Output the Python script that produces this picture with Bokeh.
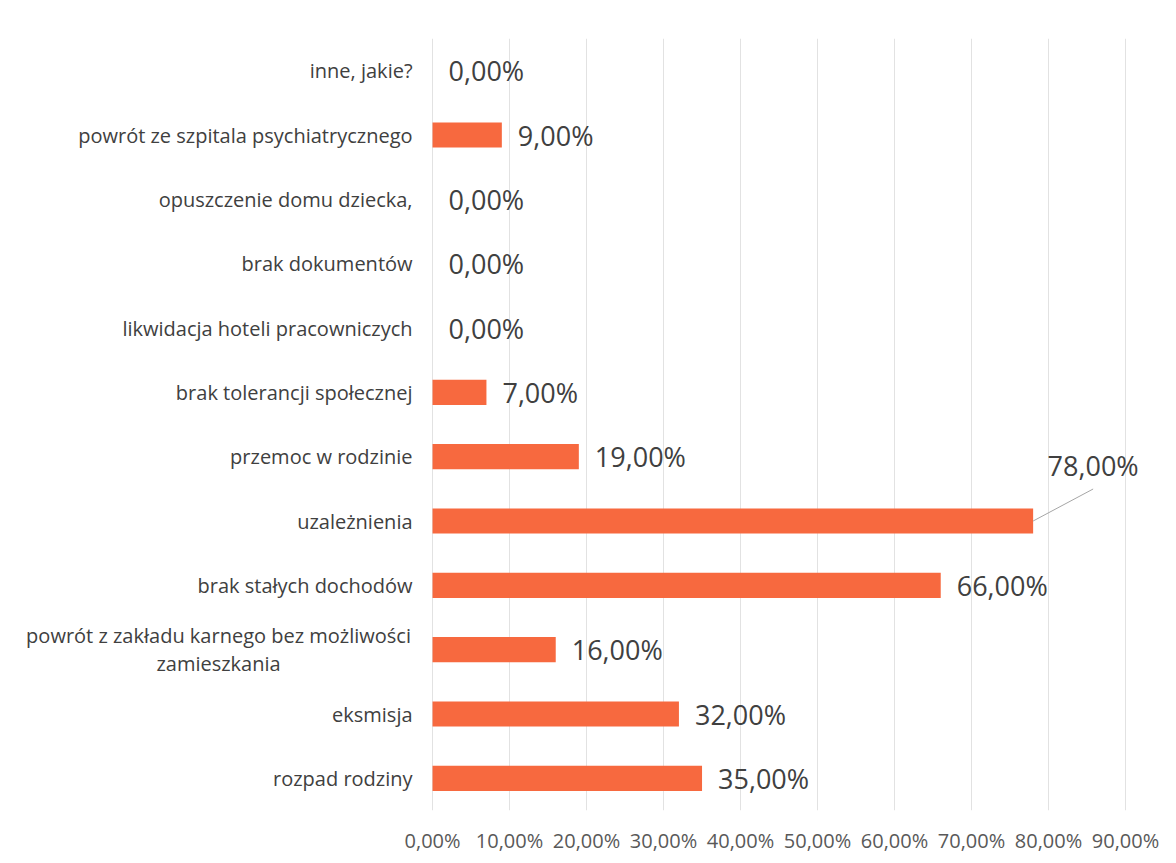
from bokeh.plotting import figure
from bokeh.models import Range1d, FixedTicker, ColumnDataSource
from bokeh.core.properties import value
from bokeh.embed import file_html
from bokeh.resources import INLINE

# ---- data (top to bottom, as in the chart) ----
categories = [
    "inne, jakie?",
    "powrót ze szpitala psychiatrycznego",
    "opuszczenie domu dziecka,",
    "brak dokumentów",
    "likwidacja hoteli pracowniczych",
    "brak tolerancji społecznej",
    "przemoc w rodzinie",
    "uzależnienia",
    "brak stałych dochodów",
    "powrót z zakładu karnego bez możliwości\nzamieszkania",
    "eksmisja",
    "rozpad rodziny",
]
values = [0, 9, 0, 0, 0, 7, 19, 78, 66, 16, 32, 35]
tick_values = [0, 10, 20, 30, 40, 50, 60, 70, 80, 90]

# ---- styling / layout ----
BAR_COLOR = "#F7693F"
FONT = "Open Sans"
FRAME_W, FRAME_H = 1160, 772
X_START, X_END = -55.2, 95.45
PX_PER_UNIT = FRAME_W / (X_END - X_START)
N = len(categories)
ROW_PX = FRAME_H / N

def pct(v):
    return f"{v:.2f}".replace(".", ",") + "%"

ys = [N - i - 0.5 for i in range(N)]

p = figure(
    frame_width=FRAME_W, frame_height=FRAME_H,
    x_range=Range1d(X_START, X_END), y_range=Range1d(0, N),
    output_backend="svg", toolbar_location=None,
    min_border_left=7, min_border_right=0, min_border_top=38, min_border_bottom=40,
)
p.outline_line_color = None
p.background_fill_color = "white"
p.border_fill_color = "white"
p.yaxis.visible = False
p.ygrid.grid_line_color = None

ticker = FixedTicker(ticks=tick_values)
p.xaxis.ticker = ticker
p.xgrid.ticker = ticker
p.xgrid.grid_line_color = "#e2e2e2"
p.xgrid.grid_line_width = 1
p.xaxis.axis_line_color = None
p.xaxis.major_tick_line_color = None
p.xaxis.minor_tick_line_color = None
p.xaxis.major_label_overrides = {t: pct(t) for t in tick_values}
p.xaxis.major_label_text_font = FONT
p.xaxis.major_label_text_font_size = "20px"
p.xaxis.major_label_text_color = "#595959"
p.xaxis.major_label_standoff = 10

src = ColumnDataSource(dict(y=ys, v=values, cat=categories,
                            lab=[pct(v) for v in values]))
p.hbar(y="y", left=0, right="v", height=0.39, source=src,
       fill_color=BAR_COLOR, line_color=None)

# category labels
single = [i for i, c in enumerate(categories) if "\n" not in c]
multi = [i for i, c in enumerate(categories) if "\n" in c]
p.text(x=[0] * len(single), y=[ys[i] for i in single],
       text=[categories[i] for i in single],
       x_offset=-20, text_align="right", text_baseline="middle",
       text_font=value(FONT), text_font_size="20px", text_color="#404040")
p.text(x=[0] * len(multi), y=[ys[i] for i in multi],
       text=[categories[i] for i in multi],
       x_offset=-214, text_align="center", text_baseline="middle",
       text_line_height=1.02,
       text_font=value(FONT), text_font_size="20px", text_color="#404040")

# data labels (one uses a leader line)
CALLOUT = {"uzależnienia": (60, -56, -32)}  # label dx, label dy, line end dy (px)
normal = [i for i, c in enumerate(categories) if c not in CALLOUT]
p.text(x=[values[i] for i in normal], y=[ys[i] for i in normal],
       text=[pct(values[i]) for i in normal],
       x_offset=16, text_align="left", text_baseline="middle",
       text_font=value(FONT), text_font_size="27px", text_color="#404040")
for i, c in enumerate(categories):
    if c in CALLOUT:
        dx, dy, ldy = CALLOUT[c]
        p.segment(x0=[values[i]], y0=[ys[i]],
                  x1=[values[i] + dx / PX_PER_UNIT], y1=[ys[i] - ldy / ROW_PX],
                  line_color="#a6a6a6", line_width=1)
        p.text(x=[values[i]], y=[ys[i]], text=[pct(values[i])],
               x_offset=dx, y_offset=dy, text_align="center", text_baseline="middle",
               text_font=value(FONT), text_font_size="27px", text_color="#404040")

open("out.html", "w").write(file_html(p, INLINE))
